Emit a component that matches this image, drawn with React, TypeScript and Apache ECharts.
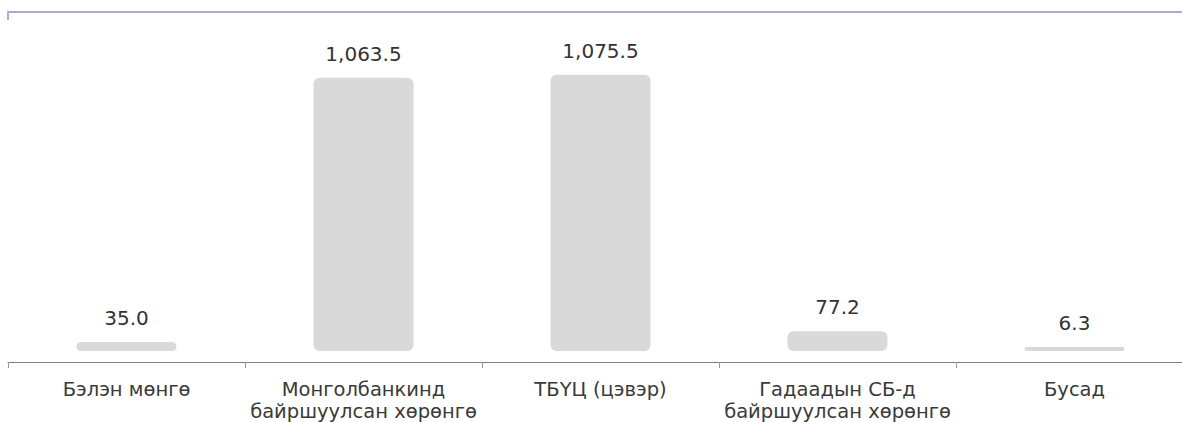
import React, { useEffect, useRef } from "react";
import * as echarts from "echarts";

const categories = [
  "Бэлэн мөнгө",
  "Монголбанкинд\nбайршуулсан хөрөнгө",
  "ТБҮЦ (цэвэр)",
  "Гадаадын СБ-д\nбайршуулсан хөрөнгө",
  "Бусад",
];
const values = [35.0, 1063.5, 1075.5, 77.2, 6.3];

const FONT = "'DejaVu Sans', sans-serif";

export default function App() {
  const ref = useRef<HTMLDivElement>(null);
  useEffect(() => {
    if (!ref.current) return;
    const chart = echarts.init(ref.current, undefined, { renderer: "svg" });
    chart.setOption({
      animation: false,
      grid: { left: 8, right: 0, top: 12, bottom: 59, containLabel: false },
      xAxis: [
        {
          type: "category",
          data: categories,
          position: "bottom",
          axisLine: { show: true, onZero: false, lineStyle: { color: "#7f7f7f", width: 1 } },
          axisTick: { show: true, length: 6, lineStyle: { color: "#9a9a9a" } },
          axisLabel: {
            interval: 0,
            margin: 16,
            fontFamily: FONT,
            fontSize: 19.5,
            lineHeight: 22,
            color: "#3a3a3a",
          },
        },
        {
          type: "category",
          data: [""],
          position: "top",
          axisLine: { show: true, onZero: false, lineStyle: { color: "#a9acd2", width: 2 } },
          axisTick: { show: true, inside: true, length: 8, lineStyle: { color: "#a9acd2", width: 2 } },
          axisLabel: { show: false },
        },
      ],
      yAxis: {
        type: "value",
        min: -43,
        max: 1320,
        show: false,
        splitLine: { show: false },
      },
      series: [
        {
          type: "bar",
          data: values,
          xAxisIndex: 0,
          barWidth: 100,
          barMinHeight: 4,
          itemStyle: { color: "#d9d9d9", borderRadius: 6 },
          label: {
            show: true,
            position: "top",
            distance: 14,
            fontFamily: FONT,
            fontSize: 20,
            color: "#333333",
            formatter: (p: any) =>
              Number(p.value).toLocaleString("en-US", { minimumFractionDigits: 1, maximumFractionDigits: 1 }),
          },
        },
      ],
    });
    return () => chart.dispose();
  }, []);
  return (
    <div style={{ position: "absolute", left: 0, top: 0, width: 1182, height: 422, overflow: "hidden" }}>
      <div ref={ref} style={{ width: 1193, height: 422 }} />
    </div>
  );
}
